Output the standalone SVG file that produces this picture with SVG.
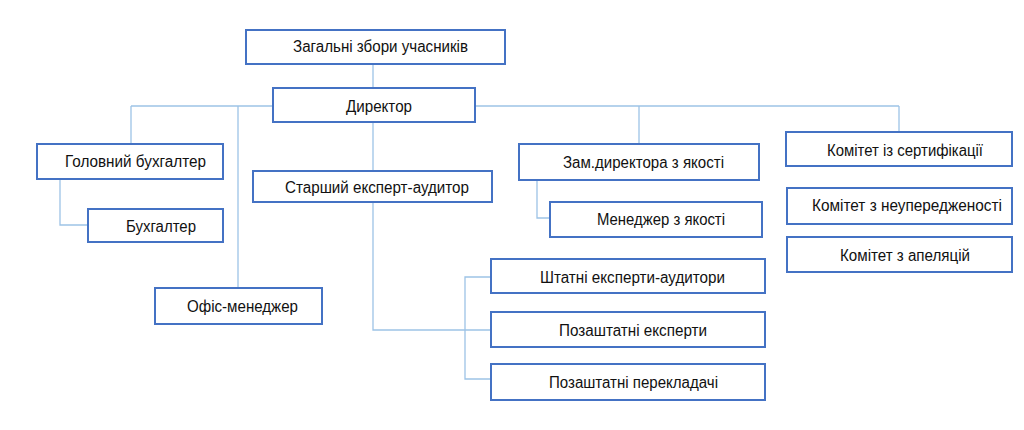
<svg xmlns="http://www.w3.org/2000/svg" width="1024" height="430" viewBox="0 0 1024 430">
<style>
.box{fill:#fff;stroke:#4472C4;stroke-width:2}
.lbl{font-family:"Liberation Sans",Arial,sans-serif;font-size:16px;fill:#111}
.con{fill:none;stroke:#9DC3E6;stroke-width:1.3}
</style>
<rect width="1024" height="430" fill="#fff"/>
<g id="connectors">
<path class="con" d="M373,64V88"/>
<path class="con" d="M131,106H899"/>
<path class="con" d="M131,106V144"/>
<path class="con" d="M238,106V288"/>
<path class="con" d="M373,122V171"/>
<path class="con" d="M639,106V144"/>
<path class="con" d="M899,106V132"/>
<path class="con" d="M60,179V225H88"/>
<path class="con" d="M537,180V218H550"/>
<path class="con" d="M373,202V330H491"/>
<path class="con" d="M491,277H465V379H491"/>
</g>
<g id="n1"><rect class="box" x="246" y="30" width="259" height="34"/><text class="lbl" x="293" y="52" textLength="175" lengthAdjust="spacingAndGlyphs">Загальні збори учасників</text></g>
<g id="n2"><rect class="box" x="273" y="88" width="202" height="34"/><text class="lbl" x="346" y="112" textLength="66" lengthAdjust="spacingAndGlyphs">Директор</text></g>
<g id="n3"><rect class="box" x="37" y="144" width="186" height="35"/><text class="lbl" x="65" y="167" textLength="141" lengthAdjust="spacingAndGlyphs">Головний бухгалтер</text></g>
<g id="n4"><rect class="box" x="88" y="209" width="135" height="33"/><text class="lbl" x="126" y="232" textLength="70" lengthAdjust="spacingAndGlyphs">Бухгалтер</text></g>
<g id="n5"><rect class="box" x="155" y="288" width="167" height="36"/><text class="lbl" x="187" y="312" textLength="111" lengthAdjust="spacingAndGlyphs">Офіс-менеджер</text></g>
<g id="n6"><rect class="box" x="253" y="171" width="239" height="31"/><text class="lbl" x="285" y="193" textLength="184" lengthAdjust="spacingAndGlyphs">Старший експерт-аудитор</text></g>
<g id="n7"><rect class="box" x="491" y="259" width="274" height="34"/><text class="lbl" x="540" y="283" textLength="185" lengthAdjust="spacingAndGlyphs">Штатні експерти-аудитори</text></g>
<g id="n8"><rect class="box" x="491" y="312" width="274" height="35"/><text class="lbl" x="559" y="336" textLength="148" lengthAdjust="spacingAndGlyphs">Позаштатні експерти</text></g>
<g id="n9"><rect class="box" x="491" y="364" width="274" height="36"/><text class="lbl" x="549" y="388" textLength="169" lengthAdjust="spacingAndGlyphs">Позаштатні перекладачі</text></g>
<g id="n10"><rect class="box" x="519" y="144" width="240" height="36"/><text class="lbl" x="563" y="168" textLength="161" lengthAdjust="spacingAndGlyphs">Зам.директора з якості</text></g>
<g id="n11"><rect class="box" x="550" y="202" width="212" height="35"/><text class="lbl" x="597" y="225" textLength="128" lengthAdjust="spacingAndGlyphs">Менеджер з якості</text></g>
<g id="n12"><rect class="box" x="786" y="132" width="226" height="34"/><text class="lbl" x="827" y="156" textLength="156" lengthAdjust="spacingAndGlyphs">Комітет із сертифікації</text></g>
<g id="n13"><rect class="box" x="787" y="188" width="225" height="36"/><text class="lbl" x="812" y="211" textLength="190" lengthAdjust="spacingAndGlyphs">Комітет з неупередженості</text></g>
<g id="n14"><rect class="box" x="787" y="237" width="225" height="35"/><text class="lbl" x="840" y="261" textLength="130" lengthAdjust="spacingAndGlyphs">Комітет з апеляцій</text></g>
</svg>
